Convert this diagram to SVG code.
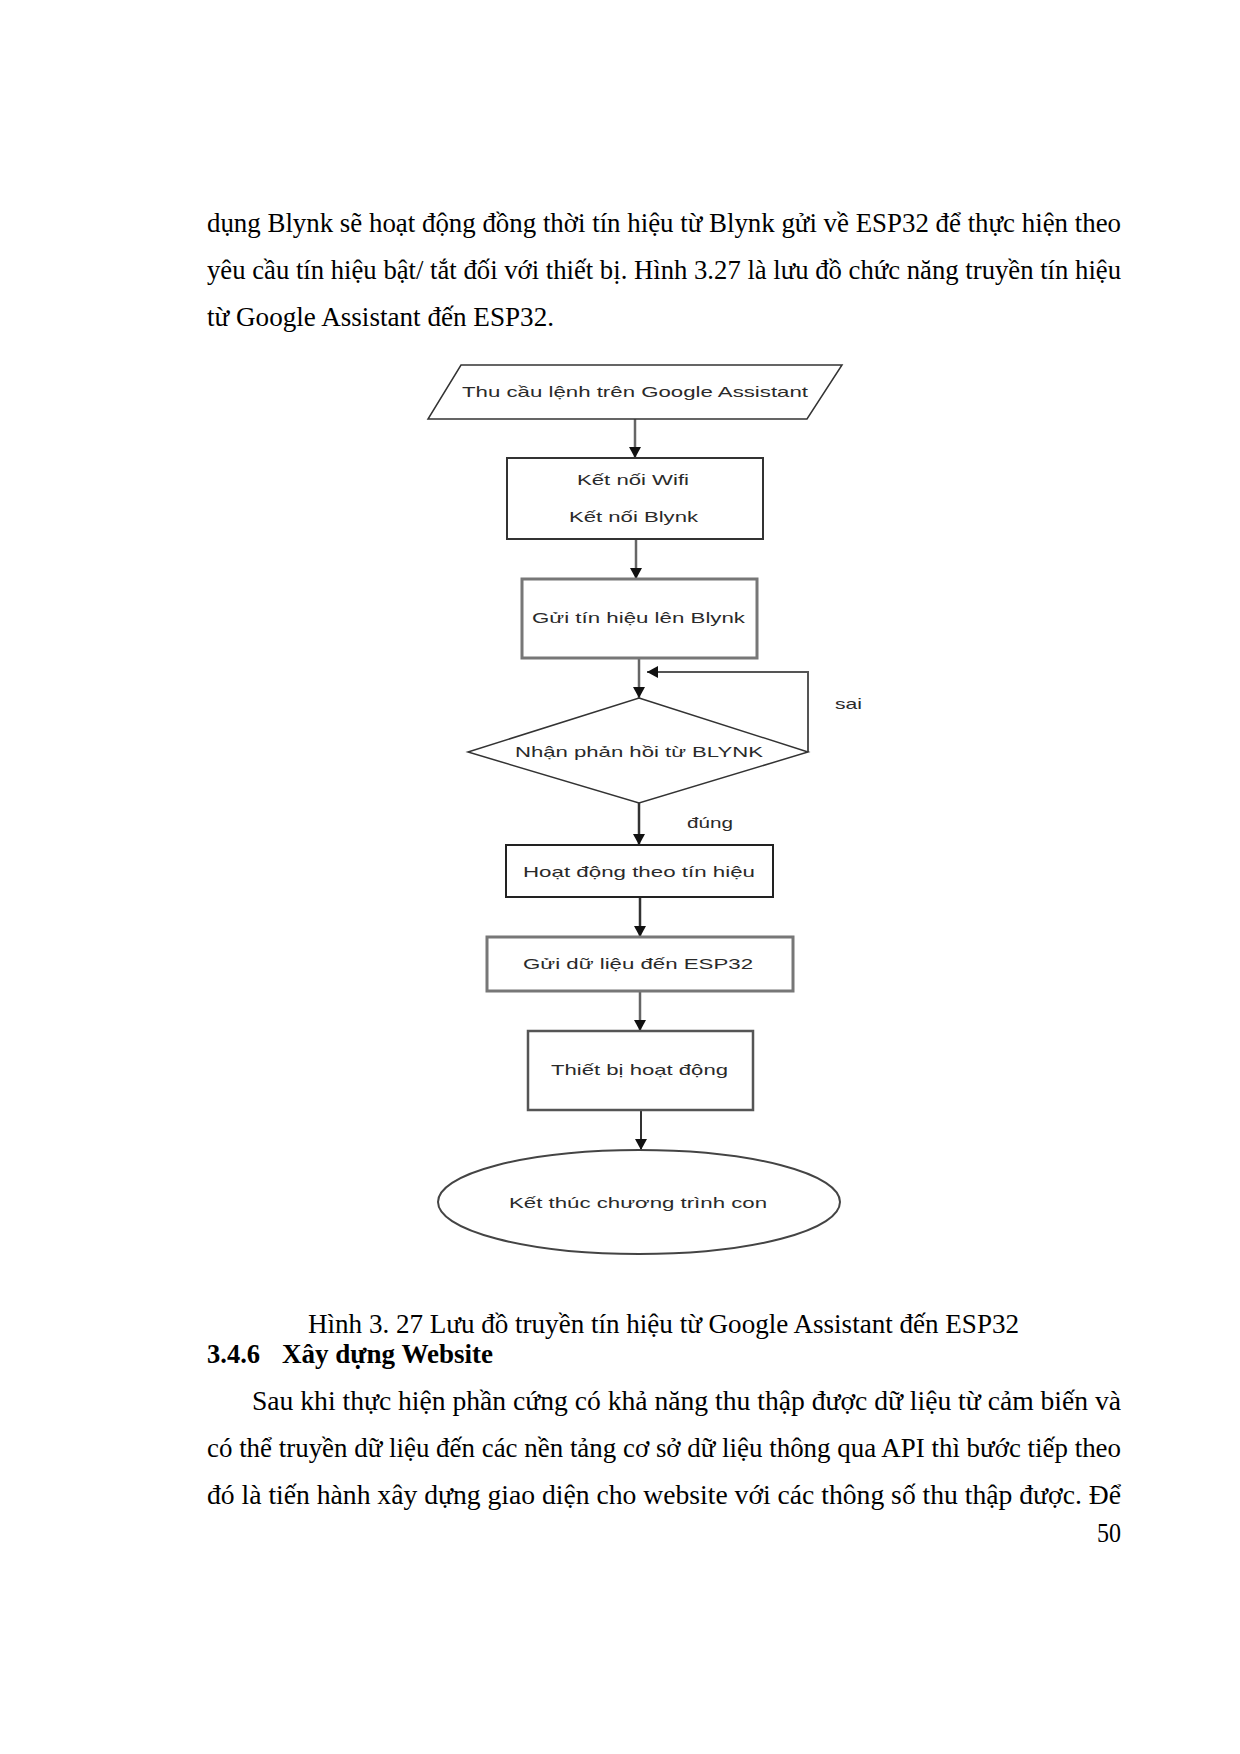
<svg xmlns="http://www.w3.org/2000/svg" width="1240" height="1754" viewBox="0 0 1240 1754">
<defs>
<marker id="ah" markerUnits="userSpaceOnUse" markerWidth="12" markerHeight="12" refX="11" refY="6" orient="auto">
<path d="M0,0 L11,6 L0,12 z" fill="#111"/>
</marker>
<style>
.body{font-family:"Liberation Serif","Times New Roman",serif;font-size:28px;fill:#000}
.bold{font-weight:bold}
.fc{font-family:"Liberation Sans",Arial,sans-serif;font-size:15px;fill:#2a2a2a}
.shape{fill:#fff}
.conn{fill:none;stroke:#666;stroke-width:2.5}
</style>
</defs>
<rect width="1240" height="1754" fill="#fff"/>

<g id="para-top">
<text class="body" x="207" y="232" textLength="914" lengthAdjust="spacingAndGlyphs">dụng Blynk sẽ hoạt động đồng thời tín hiệu từ Blynk gửi về ESP32 để thực hiện theo</text>
<text class="body" x="207" y="279" textLength="914" lengthAdjust="spacingAndGlyphs">yêu cầu tín hiệu bật/ tắt đối với thiết bị. Hình 3.27 là lưu đồ chức năng truyền tín hiệu</text>
<text class="body" x="207" y="326" textLength="347" lengthAdjust="spacingAndGlyphs">từ Google Assistant đến ESP32.</text>
</g>

<g id="connectors">
<line class="conn" x1="635" y1="419" x2="635" y2="458" marker-end="url(#ah)"/>
<line class="conn" x1="636" y1="539" x2="636" y2="579" marker-end="url(#ah)"/>
<line class="conn" x1="639" y1="658" x2="639" y2="698" marker-end="url(#ah)"/>
<polyline class="conn" points="808,752 808,672 647,672" marker-end="url(#ah)" style="stroke:#555;stroke-width:2"/>
<line class="conn" x1="639" y1="803" x2="639" y2="845" marker-end="url(#ah)" style="stroke:#333"/>
<line class="conn" x1="640" y1="897" x2="640" y2="937" marker-end="url(#ah)" style="stroke:#333"/>
<line class="conn" x1="640" y1="991" x2="640" y2="1031" marker-end="url(#ah)"/>
<line class="conn" x1="641" y1="1110" x2="641" y2="1150" marker-end="url(#ah)" style="stroke:#333;stroke-width:2"/>
<text class="fc" x="835" y="709" textLength="27" lengthAdjust="spacingAndGlyphs">sai</text>
<text class="fc" x="687" y="828" textLength="46" lengthAdjust="spacingAndGlyphs">đúng</text>
</g>

<g id="n-input">
<polygon class="shape" points="461,365 842,365 807,419 428,419" stroke="#333" stroke-width="1.5"/>
<text class="fc" x="462" y="397" textLength="346" lengthAdjust="spacingAndGlyphs">Thu cầu lệnh trên Google Assistant</text>
</g>

<g id="n-connect">
<rect class="shape" x="507" y="458" width="256" height="81" stroke="#333" stroke-width="2"/>
<text class="fc" x="577" y="485" textLength="112" lengthAdjust="spacingAndGlyphs">Kết nối Wifi</text>
<text class="fc" x="569" y="522" textLength="129" lengthAdjust="spacingAndGlyphs">Kết nối Blynk</text>
</g>

<g id="n-send">
<rect class="shape" x="522" y="579" width="235" height="79" stroke="#777" stroke-width="3"/>
<text class="fc" x="532" y="623" textLength="213" lengthAdjust="spacingAndGlyphs">Gửi tín hiệu lên Blynk</text>
</g>

<g id="n-decision">
<polygon class="shape" points="639,698 808,752 639,803 468,752" stroke="#333" stroke-width="1.5"/>
<text class="fc" x="515" y="757" textLength="248" lengthAdjust="spacingAndGlyphs">Nhận phản hồi từ BLYNK</text>
</g>

<g id="n-act">
<rect class="shape" x="506" y="845" width="267" height="52" stroke="#222" stroke-width="2"/>
<text class="fc" x="523" y="877" textLength="232" lengthAdjust="spacingAndGlyphs">Hoạt động theo tín hiệu</text>
</g>

<g id="n-data">
<rect class="shape" x="487" y="937" width="306" height="54" stroke="#777" stroke-width="3"/>
<text class="fc" x="523" y="969" textLength="230" lengthAdjust="spacingAndGlyphs">Gửi dữ liệu đến ESP32</text>
</g>

<g id="n-device">
<rect class="shape" x="528" y="1031" width="225" height="79" stroke="#555" stroke-width="2.5"/>
<text class="fc" x="551" y="1075" textLength="177" lengthAdjust="spacingAndGlyphs">Thiết bị hoạt động</text>
</g>

<g id="n-end">
<ellipse class="shape" cx="639" cy="1202" rx="201" ry="52" stroke="#444" stroke-width="2"/>
<text class="fc" x="509" y="1208" textLength="258" lengthAdjust="spacingAndGlyphs">Kết thúc chương trình con</text>
</g>

<g id="para-bottom">
<text class="body" x="308" y="1333" textLength="711" lengthAdjust="spacingAndGlyphs">Hình 3. 27 Lưu đồ truyền tín hiệu từ Google Assistant đến ESP32</text>
<text class="body bold" x="207" y="1363" textLength="53" lengthAdjust="spacingAndGlyphs">3.4.6</text>
<text class="body bold" x="282" y="1363" textLength="211" lengthAdjust="spacingAndGlyphs">Xây dựng Website</text>
<text class="body" x="252" y="1410" textLength="869" lengthAdjust="spacingAndGlyphs">Sau khi thực hiện phần cứng có khả năng thu thập được dữ liệu từ cảm biến và</text>
<text class="body" x="207" y="1457" textLength="914" lengthAdjust="spacingAndGlyphs">có thể truyền dữ liệu đến các nền tảng cơ sở dữ liệu thông qua API thì bước tiếp theo</text>
<text class="body" x="207" y="1504" textLength="914" lengthAdjust="spacingAndGlyphs">đó là tiến hành xây dựng giao diện cho website với các thông số thu thập được. Để</text>
<text class="body" x="1097" y="1542" textLength="24" lengthAdjust="spacingAndGlyphs">50</text>
</g>
</svg>
